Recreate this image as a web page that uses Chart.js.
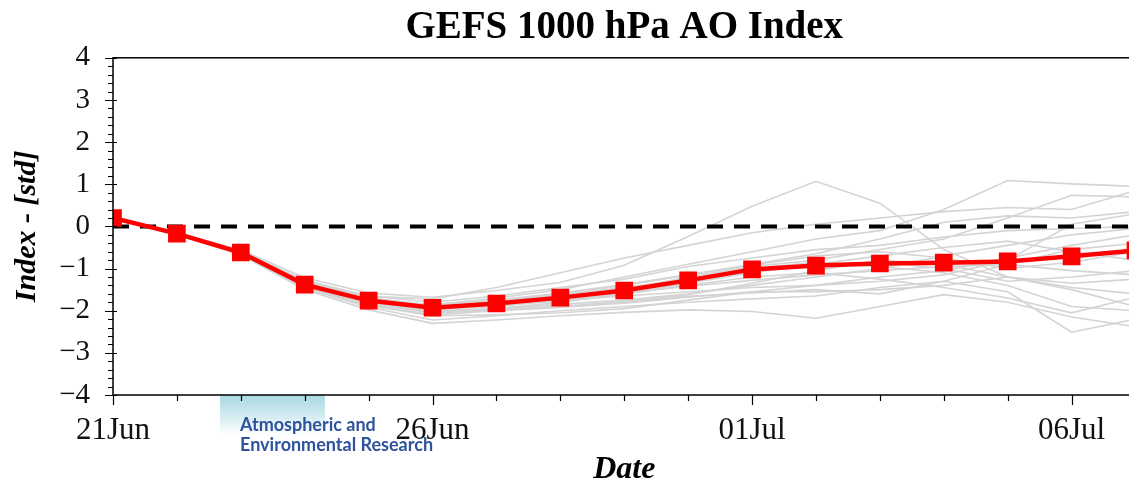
<!DOCTYPE html>
<html>
<head>
<meta charset="utf-8">
<script src="https://cdn.jsdelivr.net/npm/chart.js@4.4.0/dist/chart.umd.min.js"></script>
<style>
    html, body { margin: 0; padding: 0; background: #fff; overflow: hidden; }
    #aoChart { display: block; }
</style>
</head>
<body>
<canvas id="aoChart" width="1148" height="483"></canvas>
<script>
// days since 21 Jun
const days = [0, 1, 2, 3, 4, 5, 6, 7, 8, 9, 10, 11, 12, 13, 14, 15, 16];
const xTickDays = [0, 5, 10, 15];
const xTickLabels = ['21Jun', '26Jun', '01Jul', '06Jul'];
const yTickValues = [4, 3, 2, 1, 0, -1, -2, -3, -4];
const yTickLabels = ['4', '3', '2', '1', '0', '\u22121', '\u22122', '\u22123', '\u22124'];

// ensemble mean (red)
const meanIndex = [0.20, -0.17, -0.62, -1.38, -1.76, -1.93, -1.83, -1.69, -1.52, -1.28, -1.02, -0.93, -0.88, -0.86, -0.83, -0.71, -0.57];
const zeroDays = [0, 16];
const zeroLine = [0, 0];

// ensemble members (grey)
const member01 = [0.21, -0.15, -0.56, -1.22, -1.58, -1.68, -1.52, -1.33, -0.92, -0.24, 0.48, 1.07, 0.55, -0.55, -1.20, -1.45, -1.60];
const member02 = [0.20, -0.17, -0.60, -1.32, -1.66, -1.72, -1.45, -1.10, -0.75, -0.45, -0.15, 0.05, 0.20, 0.35, 0.45, 0.40, 0.85];
const member03 = [0.20, -0.18, -0.63, -1.40, -1.80, -1.86, -1.70, -1.50, -1.20, -0.90, -0.60, -0.30, -0.10, 0.40, 1.09, 1.01, 0.95];
const member04 = [0.19, -0.20, -0.68, -1.50, -1.98, -2.30, -2.22, -2.12, -2.04, -1.98, -2.02, -2.18, -1.90, -1.62, -1.80, -2.15, -2.38];
const member05 = [0.20, -0.16, -0.60, -1.30, -1.70, -1.88, -1.82, -1.75, -1.65, -1.55, -1.45, -1.40, -1.30, -1.15, -0.80, 0.05, 0.30];
const member06 = [0.20, -0.17, -0.64, -1.42, -1.86, -2.10, -2.00, -1.90, -1.78, -1.66, -1.58, -1.50, -1.60, -1.30, -0.90, -0.55, -0.40];
const member07 = [0.21, -0.16, -0.61, -1.36, -1.74, -1.95, -1.88, -1.70, -1.50, -1.20, -0.95, -0.80, -0.55, -0.30, 0.20, 0.74, 0.70];
const member08 = [0.20, -0.18, -0.62, -1.38, -1.78, -2.00, -1.95, -1.85, -1.75, -1.60, -1.40, -1.20, -1.00, -0.70, -0.45, -0.20, -0.05];
const member09 = [0.19, -0.19, -0.66, -1.46, -1.92, -2.22, -2.12, -2.00, -1.90, -1.80, -1.72, -1.65, -1.45, -1.30, -1.55, -2.51, -2.20];
const member10 = [0.20, -0.17, -0.62, -1.38, -1.76, -1.92, -1.80, -1.62, -1.45, -1.25, -1.00, -0.85, -0.95, -1.10, -1.40, -1.90, -2.00];
const member11 = [0.21, -0.15, -0.58, -1.28, -1.65, -1.80, -1.65, -1.45, -1.25, -0.95, -0.75, -0.55, -0.45, -0.25, -0.10, -0.05, 0.00];
const member12 = [0.20, -0.17, -0.63, -1.40, -1.80, -2.02, -1.98, -1.90, -1.80, -1.62, -1.35, -1.05, -0.80, -0.90, -1.20, -1.35, -1.25];
const member13 = [0.20, -0.18, -0.64, -1.44, -1.84, -2.05, -1.95, -1.80, -1.60, -1.40, -1.20, -1.10, -1.25, -1.45, -1.70, -2.05, -1.68];
const member14 = [0.20, -0.16, -0.60, -1.34, -1.72, -1.90, -1.85, -1.78, -1.60, -1.35, -1.10, -0.90, -0.70, -0.50, -0.35, -0.60, -0.80];
const member15 = [0.20, -0.17, -0.62, -1.39, -1.78, -1.97, -1.90, -1.75, -1.58, -1.42, -1.28, -1.15, -1.05, -0.95, -0.90, -1.05, -1.15];
const member16 = [0.19, -0.19, -0.65, -1.45, -1.88, -2.12, -2.10, -2.05, -1.95, -1.75, -1.55, -1.40, -1.20, -1.05, -0.75, -0.45, -0.20];
const member17 = [0.20, -0.17, -0.61, -1.37, -1.75, -1.90, -1.78, -1.60, -1.40, -1.15, -0.90, -0.65, -0.30, 0.10, 0.25, 0.20, 0.35];
const member18 = [0.20, -0.18, -0.63, -1.41, -1.82, -2.05, -2.00, -1.92, -1.82, -1.68, -1.55, -1.55, -1.50, -1.40, -1.20, -1.50, -1.90];
const member19 = [0.21, -0.16, -0.59, -1.33, -1.70, -1.86, -1.75, -1.58, -1.38, -1.15, -0.92, -0.70, -0.60, -0.75, -1.00, -0.85, -0.60];
const member20 = [0.20, -0.17, -0.62, -1.38, -1.77, -1.95, -1.86, -1.72, -1.55, -1.35, -1.05, -0.95, -0.85, -1.00, -1.30, -1.20, -1.05];

const members = [member01, member02, member03, member04, member05, member06, member07, member08, member09, member10,
                 member11, member12, member13, member14, member15, member16, member17, member18, member19, member20];

function toPoints(xs, ys) {
    return ys.map((v, i) => ({ x: xs[i], y: v }));
}

const SERIF = '"Liberation Serif", "Times New Roman", serif';

// frame, tick marks and logo
const axesDecor = {
    id: 'axesDecor',
    beforeDraw(chart) {
        const ctx = chart.ctx;
        const bottom = chart.chartArea.bottom;
        ctx.save();
        const grad = ctx.createLinearGradient(0, bottom, 0, bottom + 40);
        grad.addColorStop(0, 'rgba(160, 212, 222, 0.9)');
        grad.addColorStop(1, 'rgba(255, 255, 255, 1)');
        ctx.fillStyle = grad;
        ctx.fillRect(220, bottom, 105, 40);
        ctx.fillStyle = '#2f529c';
        ctx.font = 'bold 18px Lato, "DejaVu Sans", sans-serif';
        ctx.textBaseline = 'middle';
        ctx.textAlign = 'left';
        ctx.fillText('Atmospheric and', 240, bottom + 30);
        ctx.fillText('Environmental Research', 240, bottom + 50);
        ctx.restore();
    },
    afterDraw(chart) {
        const ctx = chart.ctx;
        const area = chart.chartArea;
        const xs = chart.scales.x;
        const ys = chart.scales.y;
        ctx.save();
        ctx.strokeStyle = '#000';
        ctx.lineWidth = 1.5;
        ctx.strokeRect(area.left, area.top, area.right - area.left, area.bottom - area.top);
        ctx.lineWidth = 1.2;
        ctx.beginPath();
        ys.ticks.forEach(t => {
            const py = Math.round(ys.getPixelForValue(t.value)) + 0.5;
            const major = Math.abs(t.value - Math.round(t.value)) < 1e-6;
            ctx.moveTo(area.left - (major ? 8 : 5), py);
            ctx.lineTo(area.left + (major ? 4 : 0), py);
        });
        xs.ticks.forEach(t => {
            const px = Math.round(xs.getPixelForValue(t.value)) + 0.5;
            const major = xTickDays.includes(t.value);
            ctx.moveTo(px, area.bottom);
            ctx.lineTo(px, area.bottom + (major ? 10 : 6));
        });
        ctx.stroke();
        ctx.restore();
    }
};

const datasets = [];
datasets.push({
    label: 'Ensemble mean',
    data: toPoints(days, meanIndex),
    borderColor: 'rgb(255, 0, 0)',
    backgroundColor: 'rgb(255, 0, 0)',
    borderWidth: 4.5,
    pointStyle: 'rect',
    pointRadius: 12.5,
    pointBorderWidth: 0,
    tension: 0,
    clip: 0
});
datasets.push({
    label: 'Zero',
    data: toPoints(zeroDays, zeroLine),
    borderColor: '#000',
    borderWidth: 4,
    borderDash: [16, 11],
    pointRadius: 0,
    clip: 0
});
members.forEach((m, i) => {
    datasets.push({
        label: 'Member ' + (i + 1),
        data: toPoints(days, m),
        borderColor: 'rgb(212, 212, 212)',
        borderWidth: 1.6,
        pointRadius: 0,
        tension: 0,
        clip: 0
    });
});

new Chart(document.getElementById('aoChart'), {
    type: 'line',
    data: { datasets: datasets },
    plugins: [axesDecor],
    options: {
        responsive: false,
        animation: false,
        devicePixelRatio: 1,
        layout: { padding: { left: 0, right: 5, top: 0, bottom: 0 } },
        plugins: {
            legend: { display: false },
            tooltip: { enabled: false },
            title: {
                display: true,
                fullSize: false,
                text: 'GEFS 1000 hPa AO Index',
                color: '#000',
                font: { family: SERIF, size: 39, weight: 'bold', lineHeight: 1.2 },
                padding: { top: 5, bottom: 6 }
            }
        },
        scales: {
            x: {
                type: 'linear',
                min: 0,
                max: 16,
                grid: { display: false },
                border: { display: false },
                afterFit: s => { s.height = 88; },
                ticks: {
                    stepSize: 1,
                    autoSkip: false,
                    maxRotation: 0,
                    padding: 9,
                    color: '#111',
                    font: { family: SERIF, size: 31 },
                    callback: v => {
                        const k = xTickDays.indexOf(v);
                        return k >= 0 ? xTickLabels[k] : '';
                    }
                },
                title: {
                    display: true,
                    text: 'Date',
                    color: '#000',
                    font: { family: SERIF, size: 32, weight: 'bold', style: 'italic', lineHeight: 0.85 },
                    padding: { top: 0, bottom: 0 }
                }
            },
            y: {
                min: -4,
                max: 4,
                grid: { display: false },
                border: { display: false },
                afterFit: s => { s.width = 113; },
                ticks: {
                    stepSize: 0.2,
                    autoSkip: false,
                    padding: 15,
                    color: '#111',
                    font: { family: SERIF, size: 29 },
                    callback: v => {
                        if (Math.abs(v - Math.round(v)) > 1e-6) return '';
                        const k = yTickValues.indexOf(Math.round(v));
                        return k >= 0 ? yTickLabels[k] : '';
                    }
                },
                title: {
                    display: true,
                    text: 'Index - [std]',
                    color: '#000',
                    font: { family: SERIF, size: 30, weight: 'bold', style: 'italic', lineHeight: 1 },
                    padding: { top: 12, bottom: 0 }
                }
            }
        }
    }
});
</script>
</body>
</html>
